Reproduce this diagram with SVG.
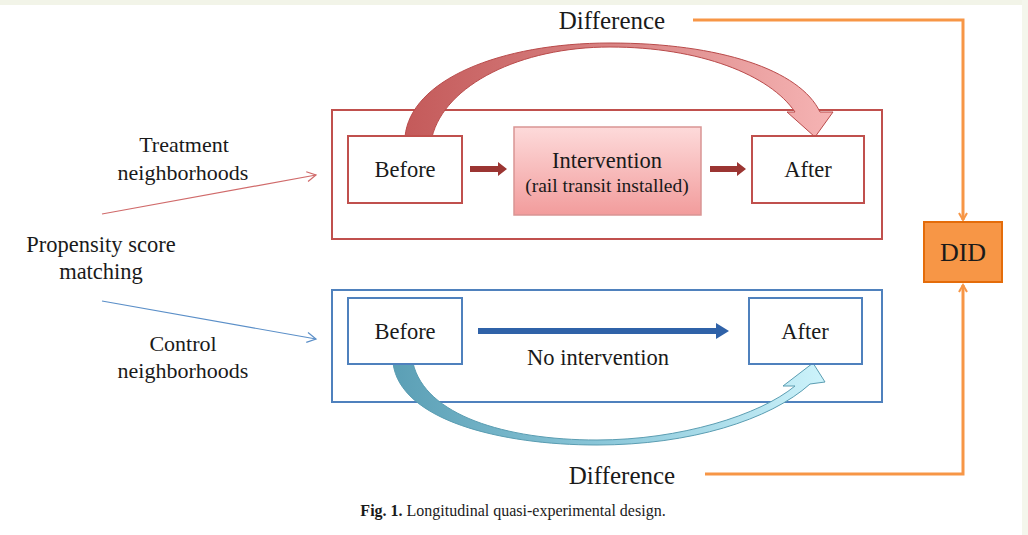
<svg xmlns="http://www.w3.org/2000/svg" width="1028" height="535" viewBox="0 0 1028 535">
<style>
.t{font-family:"Liberation Serif","Times New Roman",serif;fill:#1a1a1a;text-anchor:middle}
.rb{fill:#fff;stroke:#c0504d;stroke-width:2}
.bb{fill:#fff;stroke:#4f81bd;stroke-width:2}
.or{fill:none;stroke:#f79646;stroke-width:3}
</style>
<defs>
<linearGradient id="gInt" x1="0" y1="0" x2="0" y2="1"><stop offset="0" stop-color="#fddada"/><stop offset="1" stop-color="#f29c9c"/></linearGradient>
<linearGradient id="gRed" x1="0" y1="0" x2="1" y2="0"><stop offset="0" stop-color="#c45a5a"/><stop offset="0.5" stop-color="#d98585"/><stop offset="1" stop-color="#f6b4b4"/></linearGradient>
<linearGradient id="gBlue" x1="0" y1="0" x2="1" y2="0"><stop offset="0" stop-color="#5b9fb5"/><stop offset="0.5" stop-color="#8cc8da"/><stop offset="1" stop-color="#cdf3fb"/></linearGradient>
<marker id="mO" markerWidth="10" markerHeight="10" refX="8" refY="5" orient="auto" markerUnits="userSpaceOnUse"><path d="M1,1 L8,5 L1,9" fill="none" stroke="#f79646" stroke-width="2"/></marker>
<marker id="mR" markerWidth="12" markerHeight="12" refX="10" refY="6" orient="auto" markerUnits="userSpaceOnUse"><path d="M1,1 L10,6 L1,11" fill="none" stroke="#d06a6a" stroke-width="1.2"/></marker>
<marker id="mB" markerWidth="12" markerHeight="12" refX="10" refY="6" orient="auto" markerUnits="userSpaceOnUse"><path d="M1,1 L10,6 L1,11" fill="none" stroke="#5b8fc8" stroke-width="1.2"/></marker>
</defs>
<rect width="1028" height="535" fill="#fff"/>
<rect x="0" y="0" width="1028" height="5" fill="#f2f4e8"/>
<rect x="1022" y="0" width="6" height="535" fill="#f4f6ec"/>

<g id="treatment-group"><rect class="rb" x="332" y="110" width="550" height="129"/></g>
<g id="control-group"><rect class="bb" x="332" y="290" width="550" height="112"/></g>

<g id="connectors">
<path d="M102,214 L316,175" stroke="#d06a6a" stroke-width="1.2" fill="none" marker-end="url(#mR)"/>
<path d="M102,301 L316,339" stroke="#5b8fc8" stroke-width="1.2" fill="none" marker-end="url(#mB)"/>
<path class="or" d="M693,20 L963,20 L963,220" marker-end="url(#mO)"/>
<path class="or" d="M705,474 L963,474 L963,285" marker-end="url(#mO)"/>
<path d="M470,166 L498,166 L498,162 L507,169 L498,176 L498,172 L470,172 Z" fill="#9b3532"/>
<path d="M710,166 L737,166 L737,162 L746,169 L737,176 L737,172 L710,172 Z" fill="#9b3532"/>
<path d="M478,328 L716,328 L716,323 L729,331 L716,339 L716,334 L478,334 Z" fill="#2f62a8"/>
<path d="M405,137 C410,80 500,43 610,43 C720,43 800,70 820,112 L833,112 L815,137 L787,112 L795,112 C770,75 700,47 610,47 C520,47 445,85 432,137 Z" fill="url(#gRed)" stroke="#b94a4a" stroke-width="1"/>
<path d="M393,363 C400,420 500,445 597,445 C690,445 770,420 810,384 L825,382 L813,363 L783,386 L795,386 C760,415 680,440 597,440 C505,440 425,415 413,363 Z" fill="url(#gBlue)" stroke="#5a9db2" stroke-width="1"/>
</g>

<g id="t-before"><rect class="rb" x="348" y="136" width="114" height="67"/><text class="t" x="405" y="177" font-size="22.5">Before</text></g>
<g id="t-intervention"><rect x="514" y="127" width="187" height="88" fill="url(#gInt)" stroke="#d99594" stroke-width="1.5"/><text class="t" x="607" y="168" font-size="22.5">Intervention</text><text class="t" x="607" y="192" font-size="19.5">(rail transit installed)</text></g>
<g id="t-after"><rect class="rb" x="752" y="136" width="112" height="67"/><text class="t" x="808" y="177" font-size="22.5">After</text></g>

<g id="c-before"><rect class="bb" x="348" y="298" width="114" height="66"/><text class="t" x="405" y="339" font-size="22.5">Before</text></g>
<g id="c-after"><rect class="bb" x="749" y="298" width="113" height="66"/><text class="t" x="805" y="339" font-size="22.5">After</text></g>
<g id="no-intervention"><text class="t" x="598" y="365" font-size="22.5">No intervention</text></g>

<g id="did"><rect x="924" y="222" width="78" height="60" fill="#f79646" stroke="#e46c0a" stroke-width="2"/><text class="t" x="963" y="261" font-size="26">DID</text></g>

<g id="diff-top"><text class="t" x="612" y="29" font-size="25">Difference</text></g>
<g id="diff-bottom"><text class="t" x="622" y="484" font-size="25">Difference</text></g>

<g id="labels">
<text class="t" x="184" y="152" font-size="22">Treatment</text>
<text class="t" x="183" y="180" font-size="22">neighborhoods</text>
<text class="t" x="101" y="252" font-size="22.5">Propensity score</text>
<text class="t" x="101" y="279" font-size="22.5">matching</text>
<text class="t" x="183" y="351" font-size="22">Control</text>
<text class="t" x="183" y="378" font-size="22">neighborhoods</text>
</g>

<g id="caption"><text class="t" x="513" y="516" font-size="16"><tspan font-weight="bold">Fig. 1.</tspan> Longitudinal quasi-experimental design.</text></g>
</svg>
